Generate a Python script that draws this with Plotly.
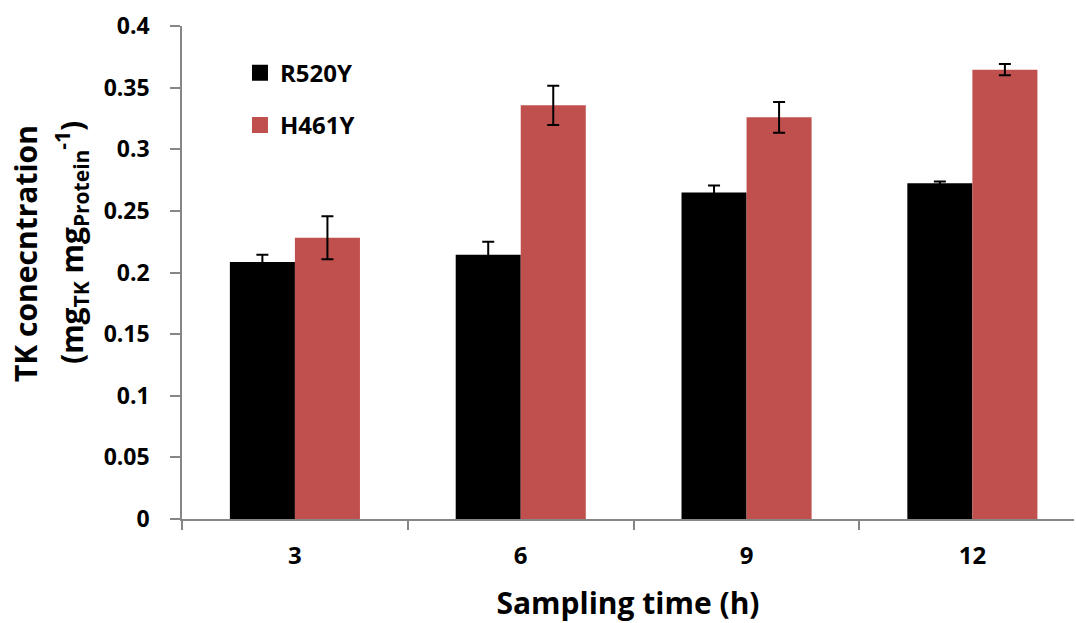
import plotly.graph_objects as go

categories = ["3", "6", "9", "12"]
r520y = [0.2085, 0.2144, 0.265, 0.2724]
r520y_err = [0.006, 0.0105, 0.0055, 0.0015]
h461y = [0.2282, 0.3356, 0.3259, 0.3646]
h461y_err = [0.0175, 0.016, 0.0125, 0.0045]
yticks = [0, 0.05, 0.1, 0.15, 0.2, 0.25, 0.3, 0.35, 0.4]
yticktext = ["0", "0.05", "0.1", "0.15", "0.2", "0.25", "0.3", "0.35", "0.4"]

FONT = "Open Sans"
BLACK = "#000000"
RED = "#C0504D"
GRAY = "#868686"

fig = go.Figure()
fig.add_trace(go.Bar(x=categories, y=r520y, name="R520Y", marker_color=BLACK,
                     marker_line_width=0, showlegend=False,
                     error_y=dict(type="data", array=r520y_err, color="black",
                                  thickness=2, width=6)))
fig.add_trace(go.Bar(x=categories, y=h461y, name="H461Y", marker_color=RED,
                     marker_line_width=0, showlegend=False,
                     error_y=dict(type="data", array=h461y_err, color="black",
                                  thickness=2, width=6)))
# legend entries
fig.add_trace(go.Scatter(x=[None], y=[None], mode="markers", name="R520Y",
                         legendgroup="a",
                         marker=dict(symbol="square", size=16, color=BLACK)))
fig.add_trace(go.Scatter(x=[None], y=[None], mode="markers", name="H461Y",
                         legendgroup="b",
                         marker=dict(symbol="square", size=16, color=RED)))

fig.update_layout(
    width=1076, height=623,
    margin=dict(l=182, r=2, t=26, b=104),
    paper_bgcolor="white", plot_bgcolor="white",
    barmode="group", bargap=0.424, bargroupgap=0,
    font=dict(family=FONT, color="black"),
    legend=dict(x=0.065, y=0.95, xanchor="left", yanchor="top",
                font=dict(family=FONT, size=24, weight="bold", color="black"),
                bgcolor="rgba(0,0,0,0)", tracegroupgap=18,
                traceorder="grouped", itemsizing="trace"),
    xaxis=dict(type="category", range=[-0.5, 3.45], tickson="boundaries",
               ticks="outside", ticklen=9, tickcolor=GRAY, tickwidth=1.5,
               showline=True, linecolor=GRAY, linewidth=1.5,
               showgrid=False, zeroline=False,
               tickfont=dict(family=FONT, size=24, weight="bold", color="black"),
               ticklabelstandoff=14,
               title=dict(text="Sampling time (h)", standoff=26,
                          font=dict(family=FONT, size=30, weight="bold", color="black"))),
    yaxis=dict(range=[0, 0.4], tickvals=yticks, ticktext=yticktext,
               ticks="outside", ticklen=10, tickcolor=GRAY, tickwidth=1.5,
               showline=True, linecolor=GRAY, linewidth=1.5,
               showgrid=False, zeroline=False,
               tickfont=dict(family=FONT, size=23, weight="bold", color="black"),
               ticklabelstandoff=16),
)

fig.add_annotation(xref="paper", yref="paper", x=(25 - 182) / 892, y=(519 - 254) / 493,
                   xanchor="center", yanchor="middle", showarrow=False, textangle=-90,
                   text="TK conecntration",
                   font=dict(family=FONT, size=30, weight="bold", color="black"))
fig.add_annotation(xref="paper", yref="paper", x=(72 - 182) / 892, y=(519 - 243) / 493,
                   xanchor="center", yanchor="middle", showarrow=False, textangle=-90,
                   text="(mg<sub>TK</sub> mg<sub>Protein</sub><sup>-1</sup>)",
                   font=dict(family=FONT, size=30, weight="bold", color="black"))

fig.write_html("out.html")
